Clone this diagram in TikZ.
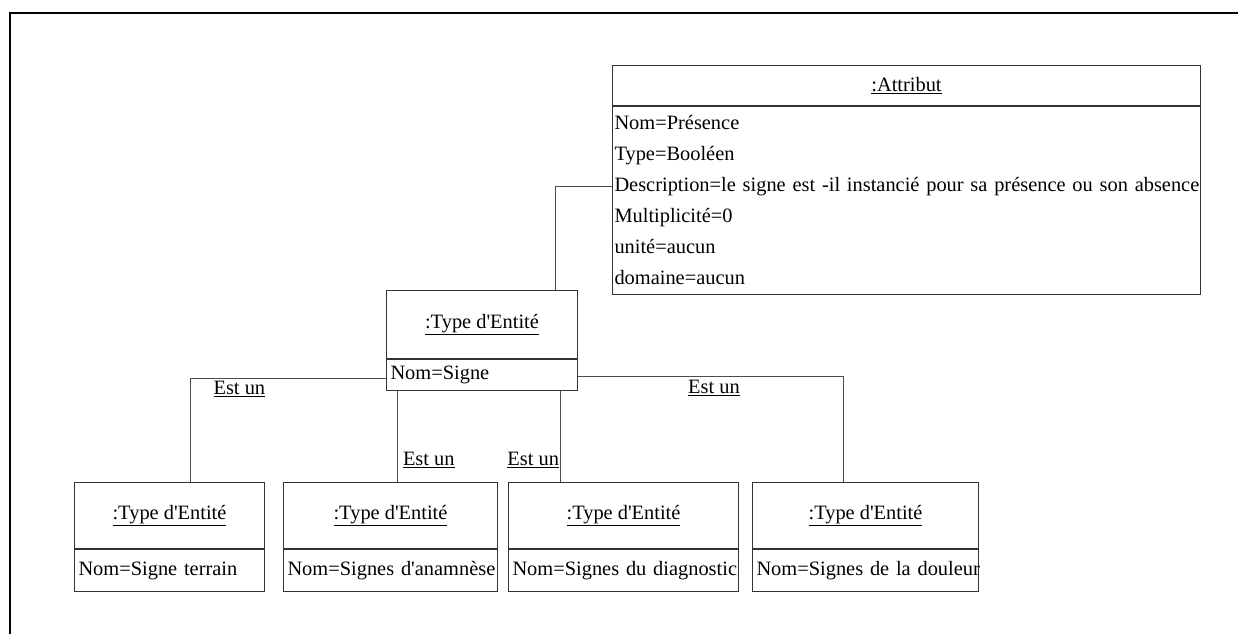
\documentclass[tikz,border=0pt]{standalone}
\usepackage{fontspec}
\setmainfont{Liberation Serif}[Ligatures=TeXOff]
\usetikzlibrary{positioning}
\tikzset{%
  % Specifications for style of the object boxes:
       objhead/.style = {rectangle, draw=black!80, line width=1bp,
                         inner sep=0pt, anchor=north west},
       objbody/.style = {rectangle, draw=black!80, line width=1bp,
                         inner xsep=4bp, inner ysep=0pt, align=left},
          link/.style = {draw=black!70, line width=1bp},
           isa/.style = {inner sep=1bp},
}

\begin{document}
\begin{tikzpicture}[x=1bp, y=-1bp, node distance=0pt,
    every node/.style={font=\fontsize{20.4bp}{31bp}\selectfont}]
  \useasboundingbox (0,0) rectangle (1238,634);
  % open frame, top and left
  \draw[line width=2.2bp] (10,634) |- (1238,13);

  % Specification of nodes (position, etc.)
  \node (atthd) [objhead, minimum width=588bp, minimum height=40bp] at (612,65) {\underline{:Attribut}};
  \node (attbd) [objbody, inner xsep=2bp, text width=584bp, minimum height=188bp, below=of atthd]
    {Nom=Présence\\Type=Booléen\\\mbox{Description=le signe est -il instancié pour sa présence ou son absence}\\Multiplicité=0\\unité=aucun\\domaine=aucun};

  \node (mhd) [objhead, minimum width=191bp, minimum height=68bp] at (386,290) {\underline{:Type d'Entité}};
  \node (mbd) [objbody, text width=183bp, minimum height=31bp, below=of mhd] {Nom=Signe};

  \node (e1hd) [objhead, minimum width=190bp, minimum height=66bp] at (74,482) {\underline{:Type d'Entité}};
  \node (e1bd) [objbody, text width=182bp, minimum height=42bp, below=of e1hd] {\mbox{Nom=Signe terrain}};

  \node (e2hd) [objhead, minimum width=214bp, minimum height=66bp] at (283,482) {\underline{:Type d'Entité}};
  \node (e2bd) [objbody, text width=206bp, minimum height=42bp, below=of e2hd] {\mbox{Nom=Signes d'anamnèse}};

  \node (e3hd) [objhead, minimum width=230bp, minimum height=66bp] at (508,482) {\underline{:Type d'Entité}};
  \node (e3bd) [objbody, text width=222bp, minimum height=42bp, below=of e3hd] {\mbox{Nom=Signes du diagnostic}};

  \node (e4hd) [objhead, minimum width=226bp, minimum height=66bp] at (752,482) {\underline{:Type d'Entité}};
  \node (e4bd) [objbody, text width=218bp, minimum height=42bp, below=of e4hd] {\mbox{Nom=Signes de la douleur}};

  % Specification of lines between nodes
  \draw[link] ([yshift=14bp]attbd.west) -| ([xshift=73.5bp]mhd.north);

  \draw[link] ([yshift=-3bp]mbd.west) -| node[isa, pos=0.375, below=2bp] {\underline{Est un}} ([xshift=21bp]e1hd.north);

  \coordinate (s2) at ([xshift=-84.5bp]mbd.south);
  \draw[link] (s2) -- node[isa, pos=0.76, right=4bp] {\underline{Est un}} (s2 |- e2hd.north);

  \coordinate (s3) at ([xshift=78.5bp]mbd.south);
  \draw[link] (s3) -- node[isa, pos=0.76, left=0pt] {\underline{Est un}} (s3 |- e3hd.north);

  \draw[link] ([yshift=-1.5bp]mbd.east) -| node[isa, pos=0.256, below=2bp] {\underline{Est un}} ([xshift=-22bp]e4hd.north);
\end{tikzpicture}
\end{document}
